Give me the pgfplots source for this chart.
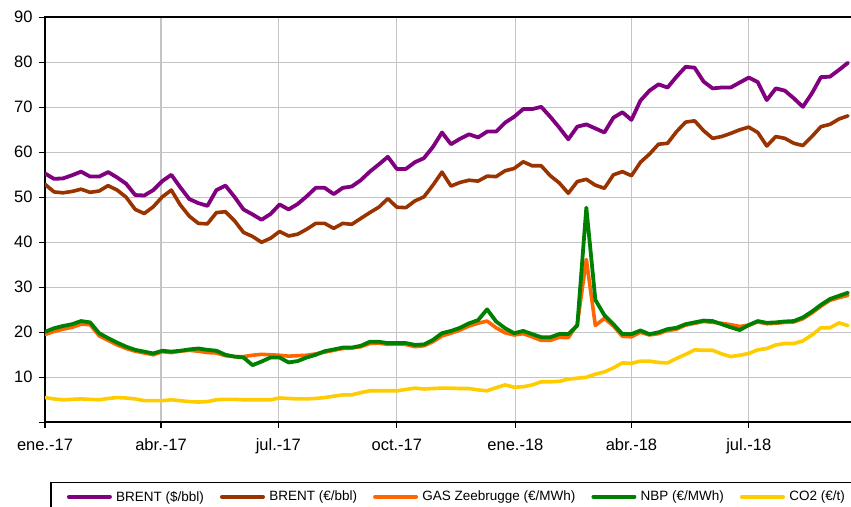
\documentclass[border=0pt]{standalone}
\usepackage{pgfplots}
\pgfplotsset{compat=1.18}
\usepackage{pgfplotstable}
\usepackage{fontspec}
\setmainfont{Liberation Sans}
\definecolor{cPur}{HTML}{800080}
\definecolor{cBrn}{HTML}{993300}
\definecolor{cOrg}{HTML}{FF6600}
\definecolor{cGrn}{HTML}{008000}
\definecolor{cYel}{HTML}{FFCC00}
\definecolor{gridgray}{HTML}{C4C4C4}
\pgfplotstableread{
i busd beur gas nbp co2
0 55.3 52.9 19.5 20.1 5.5
1 54.1 51.2 20.2 20.9 5.2
2 54.2 51.0 20.7 21.4 5.0
3 54.9 51.3 21.1 21.8 5.1
4 55.7 51.8 21.8 22.5 5.2
5 54.6 51.1 21.7 22.2 5.1
6 54.6 51.4 19.2 19.8 5.0
7 55.6 52.6 18.2 18.7 5.3
8 54.4 51.6 17.2 17.7 5.5
9 53.0 50.0 16.4 16.8 5.4
10 50.5 47.3 15.8 16.1 5.2
11 50.4 46.4 15.4 15.7 4.8
12 51.6 47.9 15.0 15.3 4.8
13 53.6 50.1 15.7 15.9 4.8
14 55.0 51.6 15.5 15.7 5.0
15 52.2 48.3 15.8 15.9 4.8
16 49.6 45.8 16.0 16.2 4.6
17 48.7 44.2 15.8 16.4 4.5
18 48.1 44.1 15.5 16.1 4.6
19 51.6 46.6 15.4 15.9 5.0
20 52.6 46.8 14.8 15.0 5.1
21 50.1 44.8 14.6 14.6 5.1
22 47.3 42.2 14.6 14.4 5.0
23 46.2 41.3 14.9 12.7 5.0
24 45.0 40.0 15.1 13.5 5.0
25 46.3 40.9 15.0 14.4 5.0
26 48.4 42.4 14.9 14.4 5.4
27 47.3 41.4 14.7 13.3 5.3
28 48.5 41.8 14.8 13.6 5.2
29 50.2 42.9 14.9 14.4 5.2
30 52.1 44.2 15.2 15.0 5.3
31 52.1 44.2 15.6 15.8 5.5
32 50.7 43.1 16.0 16.2 5.8
33 52.1 44.2 16.4 16.6 6.1
34 52.4 44.0 16.5 16.6 6.1
35 53.8 45.3 16.8 17.0 6.6
36 55.7 46.6 17.5 17.9 7.0
37 57.3 47.8 17.6 17.9 7.0
38 59.0 49.7 17.3 17.6 7.0
39 56.3 47.8 17.4 17.6 7.0
40 56.3 47.7 17.3 17.6 7.3
41 57.8 49.2 16.8 17.2 7.6
42 58.7 50.1 17.0 17.3 7.4
43 61.2 52.7 17.9 18.3 7.5
44 64.4 55.6 19.2 19.8 7.6
45 61.8 52.5 19.8 20.3 7.6
46 63.0 53.3 20.5 21.0 7.5
47 64.0 53.8 21.4 22.0 7.5
48 63.3 53.6 22.0 22.7 7.2
49 64.6 54.7 22.5 25.1 7.0
50 64.6 54.6 21.0 22.4 7.7
51 66.6 55.9 19.9 20.9 8.3
52 67.9 56.4 19.4 19.8 7.8
53 69.6 57.9 19.7 20.3 7.9
54 69.6 57.0 19.0 19.6 8.3
55 70.1 57.0 18.2 18.9 9.0
56 67.9 54.8 18.2 18.9 9.0
57 65.5 53.2 18.9 19.6 9.1
58 62.9 50.9 18.8 19.6 9.6
59 65.7 53.5 21.8 21.5 9.8
60 66.2 54.0 36.2 47.7 10.0
61 65.3 52.7 21.5 27.2 10.7
62 64.4 52.0 23.1 23.8 11.2
63 67.7 55.0 21.4 21.8 12.1
64 68.9 55.7 19.1 19.6 13.2
65 67.2 54.8 19.0 19.6 13.1
66 71.5 57.8 20.0 20.4 13.6
67 73.7 59.6 19.4 19.6 13.6
68 75.1 61.8 19.7 20.0 13.3
69 74.4 62.0 20.4 20.7 13.2
70 76.8 64.6 20.7 21.0 14.2
71 79.0 66.7 21.6 21.8 15.1
72 78.8 67.0 22.0 22.2 16.1
73 75.7 64.8 22.4 22.6 16.0
74 74.2 63.1 22.2 22.5 16.0
75 74.4 63.5 22.0 21.8 15.2
76 74.4 64.2 21.7 21.1 14.6
77 75.5 65.0 21.3 20.5 14.9
78 76.6 65.6 21.6 21.6 15.3
79 75.6 64.4 22.3 22.5 16.1
80 71.6 61.4 21.9 22.1 16.4
81 74.2 63.5 22.0 22.2 17.2
82 73.7 63.1 22.2 22.4 17.5
83 72.0 62.0 22.3 22.5 17.5
84 70.1 61.5 23.0 23.3 18.1
85 73.1 63.5 24.3 24.6 19.4
86 76.7 65.7 25.8 26.1 21.0
87 76.8 66.2 27.1 27.4 21.0
88 78.3 67.4 27.7 28.1 22.1
89 79.9 68.1 28.2 28.8 21.5
}\data
\begin{document}
\begin{tikzpicture}
\useasboundingbox (0,0) rectangle (851pt,506pt);
\begin{axis}[
  at={(45pt,83.7pt)}, anchor=south west,
  scale only axis, width=808pt, height=405pt,
  xmin=0, xmax=626.9, ymin=0, ymax=90,
  xtick={0,90,181,273,365,455,546},
  xticklabels={ene.-17,abr.-17,jul.-17,oct.-17,ene.-18,abr.-18,jul.-18},
  ytick={0,10,20,30,40,50,60,70,80,90},
  yticklabels={{},10,20,30,40,50,60,70,80,90},
  tick pos=left, tick align=outside, major tick length=6pt,
  grid=major, major grid style={color=gridgray, line width=1.1pt},
  axis line style={line width=1.8pt, black},
  tick style={line width=1.2pt, black},
  ticklabel style={font=\fontsize{16.5}{20}\selectfont},
  yticklabel style={xshift=-3pt},
  xticklabel style={yshift=-7pt},
  /pgf/number format/assume math mode=true,
  no markers,
  every axis plot/.append style={line join=round, line cap=round},
  legend columns=5,
  legend style={at={(axis description cs:0.0269,-0.184)}, anchor=west,
    draw=none, fill=none, inner sep=0pt,
    font=\fontsize{13.5}{16}\selectfont,
    nodes={inner sep=0pt},
    /tikz/every even column/.append style={column sep=16pt},
    /tikz/every odd column/.append style={column sep=4.3pt}},
  legend image code/.code={\draw[#1, line width=4pt, line cap=round] (2pt,0pt) -- (43pt,0pt);},
]
\addplot[color=cPur, line width=3.8pt] table[x expr=\thisrow{i}*7, y=busd] {\data};
\addlegendentry{BRENT (\$/bbl)}
\addplot[color=cBrn, line width=3.6pt] table[x expr=\thisrow{i}*7, y=beur] {\data};
\addlegendentry{BRENT (€/bbl)}
\addplot[color=cOrg, line width=3.6pt] table[x expr=\thisrow{i}*7, y=gas] {\data};
\addlegendentry{GAS Zeebrugge (€/MWh)}
\addplot[color=cGrn, line width=3.8pt] table[x expr=\thisrow{i}*7, y=nbp] {\data};
\addlegendentry{NBP (€/MWh)}
\addplot[color=cYel, line width=3.6pt] table[x expr=\thisrow{i}*7, y=co2] {\data};
\addlegendentry{CO2 (€/t)}
\end{axis}
\draw[line width=1.2pt, black] (51pt,23.3pt) rectangle (900pt,-30pt);
\end{tikzpicture}
\end{document}
